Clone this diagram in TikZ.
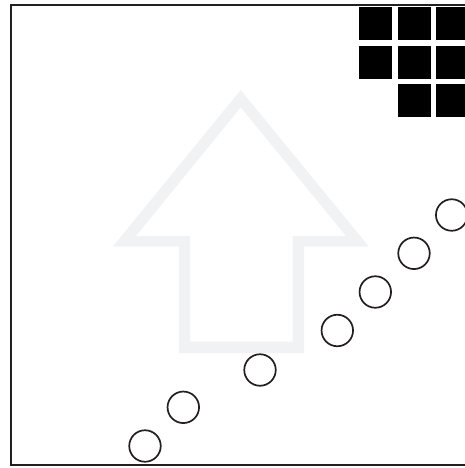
\documentclass[tikz,border=0pt]{standalone}
\usetikzlibrary{positioning}
\definecolor{ink}{HTML}{231F20}
\definecolor{mist}{HTML}{F1F2F3}

\begin{document}
\begin{tikzpicture}[x=1pt,y=-1pt,
   bead/.style={circle,draw=ink,line width=1.7pt,minimum size=31.5pt,inner sep=0pt},
   tile/.style={fill=black}]
  \clip (0,0) rectangle (465,468);
  % faint up arrow (outline)
  \fill[mist,even odd rule]
    (240.7,90) -- (369,246.7) -- (304,246.7) -- (304,353) -- (179,353)
      -- (179,246.7) -- (112.7,246.7) -- cycle
    (240.7,107.3) -- (346,236) -- (292.7,236) -- (292.7,341.7) -- (190,341.7)
      -- (190,236) -- (136,236) -- cycle;
  % block of tiles
  \fill[tile] (359,6.7) rectangle ++(33,33);
  \fill[tile] (397.7,6.7) rectangle ++(33,33);
  \fill[tile] (436,6.7) rectangle ++(33,33);
  \fill[tile] (359,45.7) rectangle ++(33,33);
  \fill[tile] (397.7,45.7) rectangle ++(33,33);
  \fill[tile] (436,45.7) rectangle ++(33,33);
  \fill[tile] (397.7,84) rectangle ++(33,33);
  \fill[tile] (436,84) rectangle ++(33,33);
  % beads
  \node[bead] (b1) at (145,446) {};
  \node[bead] (b2) at (183.3,407.3) {};
  \node[bead] (b3) at (260,370) {};
  \node[bead] (b4) at (337.3,330.5) {};
  \node[bead] (b5) at (375.3,292) {};
  \node[bead] (b6) at (414,253.3) {};
  \node[bead] (b7) at (451.7,215) {};
  % frame
  \draw[ink,line width=2pt] (475,5) -- (10.5,5) -- (10.5,465) -- (475,465);
\end{tikzpicture}
\end{document}
